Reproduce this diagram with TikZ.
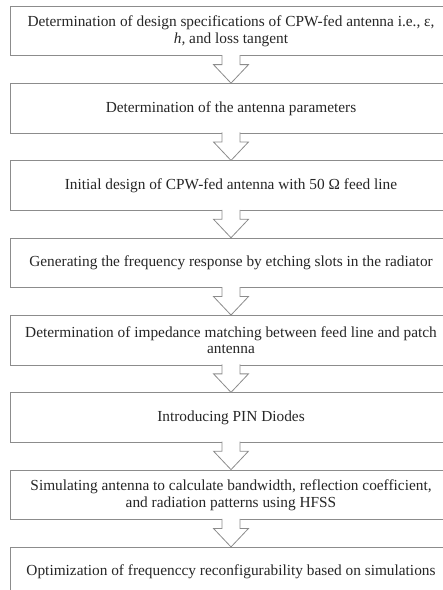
\documentclass[tikz,border=0pt]{standalone}
\usepackage{fontspec}
\setmainfont{Liberation Serif}
\usetikzlibrary{calc}

\newcommand{\stepfont}{\fontsize{15.4}{17}\selectfont}

\begin{document}
\begin{tikzpicture}[x=1bp,y=1bp,
    stepbox/.style={draw=black!45,line width=0.8bp,fill=white,
        minimum width=442bp,minimum height=49.5bp,align=center,
        inner sep=0pt,font=\stepfont,text=black!85},
    hollow/.style={draw=black!45,line width=0.8bp,fill=white,line join=miter}
]
    \useasboundingbox (0,0) rectangle (443,-590);
    \clip (0,0) rectangle (443,-590);

    \node[stepbox] (spec) at (231,-31)
        {Determination of design specifications of CPW-fed antenna i.e., ε,\\\textit{h,} and loss tangent};
    \node[stepbox] (param) at (231,-108.3)
        {Determination of the antenna parameters};
    \node[stepbox] (initial) at (231,-185.6)
        {Initial design of CPW-fed antenna with 50 Ω feed line};
    \node[stepbox] (slots) at (231,-262.9)
        {Generating the frequency response by etching slots in the radiator};
    \node[stepbox] (match) at (231,-340.2)
        {Determination of impedance matching between feed line and patch\\antenna};
    \node[stepbox] (diodes) at (231,-417.5)
        {Introducing PIN Diodes};
    \node[stepbox] (simulate) at (231,-494.8)
        {Simulating antenna to calculate bandwidth, reflection coefficient,\\and radiation patterns using HFSS};
    \node[stepbox] (optim) at (231,-572.1)
        {Optimization of frequenccy reconfigurability based on simulations};

    % hollow block arrows between the steps
    \foreach \a/\b in {spec/param,param/initial,initial/slots,slots/match,
                       match/diodes,diodes/simulate,simulate/optim}
        \draw[hollow] ($(\a.south)+(-9,1)$) -- ($(\a.south)+(-9,-8.5)$)
            -- ($(\a.south)+(-17.5,-8.5)$) -- (\b.north)
            -- ($(\a.south)+(17.5,-8.5)$) -- ($(\a.south)+(9,-8.5)$)
            -- ($(\a.south)+(9,1)$);
\end{tikzpicture}
\end{document}
